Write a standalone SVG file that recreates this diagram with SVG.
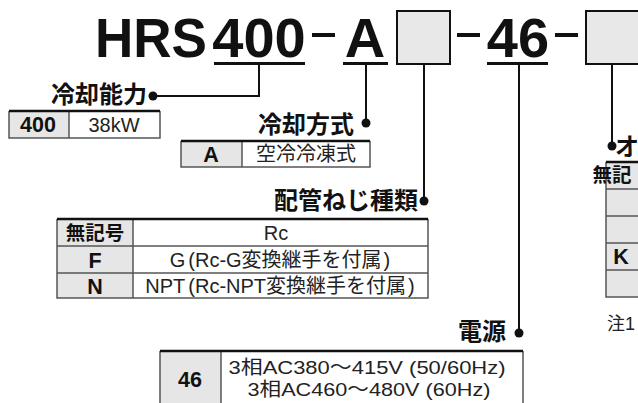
<svg xmlns="http://www.w3.org/2000/svg" width="638" height="403" viewBox="0 0 638 403">
<style>
.title{font-family:"Liberation Sans","Noto Sans CJK JP",sans-serif;font-weight:bold;font-size:56px;fill:#111}
.lbl{font-family:"Noto Sans CJK JP","Liberation Sans",sans-serif;font-weight:bold;font-size:24px;fill:#111}
.cb{font-family:"Liberation Sans","Noto Sans CJK JP",sans-serif;font-weight:bold;font-size:21.5px;fill:#111;text-anchor:middle}
.cj{font-family:"Noto Sans CJK JP","Liberation Sans",sans-serif;font-weight:bold;font-size:19.5px;fill:#111;text-anchor:middle}
.cr{font-family:"Liberation Sans","Noto Sans CJK JP",sans-serif;font-size:20px;fill:#222;text-anchor:middle}
.cp{font-family:"Liberation Sans","Noto Sans CJK JP",sans-serif;font-size:19px;fill:#222;text-anchor:middle}
.note{font-family:"Liberation Sans","Noto Sans CJK JP",sans-serif;font-size:18px;fill:#222}
.key{fill:#e6e6e6}
.val{fill:#fff}
.grid{stroke:#555;stroke-width:1.5;fill:none}
.top{stroke:#111;stroke-width:2.5}
.bar{fill:#111}
.box{fill:#e8e8e8;stroke:#111;stroke-width:2}
.conn{stroke:#111;stroke-width:2;fill:none}
.dot{fill:#111}
</style>
<defs>
<clipPath id="edge"><rect x="0" y="0" width="638" height="403"/></clipPath>
</defs>
<rect width="638" height="403" fill="#fff"/>
<g id="model">
<text class="title" x="95" y="57" textLength="112" lengthAdjust="spacingAndGlyphs">HRS</text>
<text class="title" x="259" y="57" text-anchor="middle">400</text>
<rect class="bar" x="214" y="62" width="91" height="3"/>
<rect class="bar" x="312" y="33" width="23" height="4"/>
<text class="title" x="365" y="57" text-anchor="middle">A</text>
<rect class="bar" x="343" y="62" width="45" height="3"/>
<rect class="box" x="397" y="11" width="53" height="53"/>
<rect class="bar" x="457" y="33" width="23" height="4"/>
<text class="title" x="518" y="57" text-anchor="middle">46</text>
<rect class="bar" x="487" y="62" width="61" height="3"/>
<rect class="bar" x="555" y="33" width="23" height="4"/>
<rect class="box" x="586" y="11" width="60" height="53"/>
</g>
<g id="connectors">
<path class="conn" d="M259 64V96H153"/>
<circle class="dot" cx="153" cy="96" r="4.5"/>
<path class="conn" d="M366 64V123"/>
<circle class="dot" cx="366" cy="123" r="4.5"/>
<path class="conn" d="M424 64V201"/>
<circle class="dot" cx="424" cy="201" r="4.5"/>
<path class="conn" d="M519 64V333"/>
<circle class="dot" cx="519" cy="333" r="4.5"/>
<path class="conn" d="M612 64V146"/>
<circle class="dot" cx="612" cy="146" r="4.5"/>
</g>
<g id="capacity">
<text class="lbl" x="147" y="103" text-anchor="end">冷却能力</text>
<rect class="key" x="9" y="111" width="60" height="27"/>
<rect class="val" x="69" y="111" width="91" height="27"/>
<path class="grid" d="M9 111V138H160V111M69 111V138"/>
<path class="top" d="M9 111H160"/>
<text class="cb" x="38" y="132">400</text>
<text class="cr" x="114" y="131.5">38kW</text>
</g>
<g id="cooling">
<text class="lbl" x="354" y="133" text-anchor="end">冷却方式</text>
<rect class="key" x="181" y="141" width="61" height="26"/>
<rect class="val" x="242" y="141" width="128" height="26"/>
<path class="grid" d="M181 141V167H370V141M242 141V167"/>
<path class="top" d="M181 141H370"/>
<text class="cb" x="211" y="162">A</text>
<text class="cr" x="306" y="161">空冷冷凍式</text>
</g>
<g id="thread">
<text class="lbl" x="418" y="209" text-anchor="end">配管ねじ種類</text>
<rect class="key" x="57" y="219" width="76" height="79"/>
<rect class="val" x="133" y="219" width="295" height="79"/>
<path class="grid" d="M57 219V298H428V219M133 219V298M57 246H428M57 273H428"/>
<path class="top" d="M57 219H428"/>
<text class="cj" x="95" y="239.5">無記号</text>
<text class="cr" x="276" y="240">Rc</text>
<text class="cb" x="95" y="267.5">F</text>
<text class="cr" x="280" y="267">G<tspan dx="3">(</tspan>Rc-G変換継手を付属<tspan dx="2">)</tspan></text>
<text class="cb" x="95" y="293.5">N</text>
<text class="cr" x="280" y="293">NPT<tspan dx="3">(</tspan>Rc-NPT変換継手を付属<tspan dx="2">)</tspan></text>
</g>
<g id="power">
<text class="lbl" x="506" y="340" text-anchor="end">電源</text>
<rect class="key" x="160" y="351" width="61" height="60"/>
<rect class="val" x="221" y="351" width="302" height="60"/>
<path class="grid" d="M160 351V411M221 351V411M523 351V411"/>
<path class="top" d="M160 351H523"/>
<text class="cb" x="190" y="387">46</text>
<text class="cp" x="367" y="374" textLength="277" lengthAdjust="spacingAndGlyphs">3相AC380〜415V (50/60Hz)</text>
<text class="cp" x="369" y="396" textLength="243" lengthAdjust="spacingAndGlyphs">3相AC460〜480V (60Hz)</text>
</g>
<g id="option">
<text class="lbl" x="615" y="155" font-size="23">オ</text>
<rect class="key" x="606" y="162" width="40" height="135"/>
<path class="grid" d="M606 162V297H646M606 189H646M606 216H646M606 243H646M606 270H646"/>
<path class="top" d="M606 162H646"/>
<g clip-path="url(#edge)">
<text class="cj" x="612" y="182" text-anchor="start">無記</text>
</g>
<text class="cb" x="621" y="264" text-anchor="start">K</text>
<text class="note" x="607" y="330">注1</text>
</g>
</svg>
